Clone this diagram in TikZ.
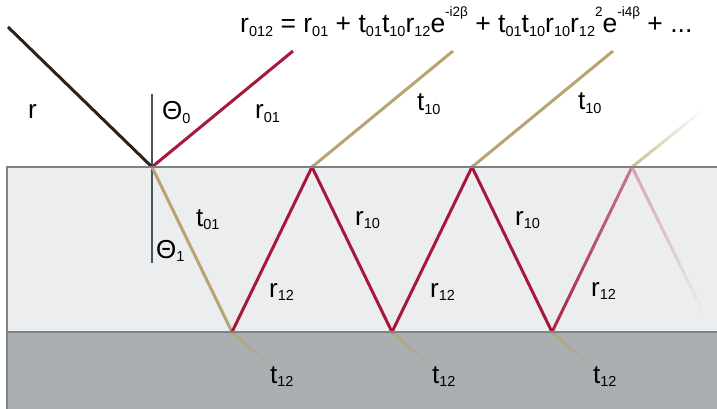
\documentclass[tikz,border=0pt]{standalone}
\usepackage{fontspec}
\setmainfont{Liberation Sans}
\usetikzlibrary{calc}
\definecolor{crim}{HTML}{A6193A}
\definecolor{tanc}{HTML}{B8A46E}
\definecolor{darkray}{HTML}{2E2118}
\definecolor{normc}{HTML}{4C5259}
\definecolor{bordc}{HTML}{7E8286}
\definecolor{filmc}{HTML}{ECEDEF}
\definecolor{subc}{HTML}{ABAFB2}
\newcommand\sbs[1]{\raisebox{-3.5pt}{\fontsize{14.5}{15}\selectfont #1}}
\newcommand\sps[1]{\raisebox{16.5pt}{\fontsize{13.5}{14}\selectfont #1}}
% gradient line: #1 start, #2 end, #3 colour, #4 background, #5 start %, #6 end %
\newcommand\gradline[6]{%
  \foreach \i in {0,...,19}{%
    \pgfmathsetmacro\pa{\i/20}%
    \pgfmathsetmacro\pb{(\i+1)/20}%
    \pgfmathtruncatemacro\pc{#5+(#6-#5)*(\i+0.5)/20}%
    \draw[ray, line join=miter, color=#3!\pc!#4] ($(#1)!\pa!(#2)$) -- ($(#1)!\pb!(#2)$);
  }}
\begin{document}
\begin{tikzpicture}[x=1pt,y=-1pt,
  ray/.style={line width=3pt, line join=round},
  bord/.style={draw=bordc, line width=2.5pt},
  lbl/.style={anchor=base west, inner sep=0pt, font=\fontsize{26}{30}\selectfont}]
\useasboundingbox (0,0) rectangle (717,409);
% layers
\fill[filmc] (7,167) rectangle (717,332);
\fill[subc] (7,332) rectangle (717,409);
% points
\coordinate (src) at (8,27);
\coordinate (p0) at (152,167);
\coordinate (b1) at (232,332);
\coordinate (p1) at (312,167);
\coordinate (b2) at (392,332);
\coordinate (p2) at (472,167);
\coordinate (b3) at (552,332);
\coordinate (p3) at (632,167);
\coordinate (e5) at (707,320);
\coordinate (r01end) at (293,51);
\coordinate (t10a) at (453,51);
\coordinate (t10b) at (613,51);
\coordinate (t10c) at (703,110);
\coordinate (t12a) at (270,366);
\coordinate (t12b) at (430,366);
\coordinate (t12c) at (590,366);
\coordinate (nTop) at (152,94);
\coordinate (nBot) at (152,263);
% normal
\draw[normc, line width=2pt] (nTop) -- (nBot);
% faded rays
\gradline{b1}{t12a}{tanc}{subc}{100}{0}
\gradline{b2}{t12b}{tanc}{subc}{100}{0}
\gradline{b3}{t12c}{tanc}{subc}{100}{0}
\gradline{p3}{t10c}{tanc}{white}{75}{0}
\gradline{b3}{p3}{crim}{filmc}{95}{55}
\gradline{p3}{e5}{crim}{filmc}{35}{0}
% rays
\draw[ray, darkray] (src) -- (p0);
\draw[ray, crim] (p0) -- (r01end);
\draw[ray, tanc] (p0) -- (b1);
\draw[ray, tanc] (p1) -- (t10a);
\draw[ray, tanc] (p2) -- (t10b);
\draw[ray, crim] (b1) -- (p1) -- (b2) -- (p2) -- (b3);
% borders
\draw[bord] (717,167) -- (7,167) -- (7,409);
\draw[bord] (7,332) -- (717,332);
% labels
\node[lbl] (lr) at (28,119) {r};
\node[lbl] (lth0) at (162,120) {Θ\sbs{0}};
\node[lbl] (lr01) at (255,119) {r\sbs{01}};
\node[lbl] (lt01) at (196,226) {t\sbs{01}};
\node[lbl] (lth1) at (156,258) {Θ\sbs{1}};
\node[lbl] (lr12a) at (269,297) {r\sbs{12}};
\node[lbl] (lr12b) at (430,297) {r\sbs{12}};
\node[lbl] (lr12c) at (591,296) {r\sbs{12}};
\node[lbl] (lr10a) at (355,225) {r\sbs{10}};
\node[lbl] (lr10b) at (515,225) {r\sbs{10}};
\node[lbl] (lt10a) at (417,111) {t\sbs{10}};
\node[lbl] (lt10b) at (578,110) {t\sbs{10}};
\node[lbl] (lt12a) at (270,383) {t\sbs{12}};
\node[lbl] (lt12b) at (432,383) {t\sbs{12}};
\node[lbl] (lt12c) at (593,383) {t\sbs{12}};
\node[lbl, font=\fontsize{26.5}{30}\selectfont] (formula) at (240,33) {r\sbs{012} = r\sbs{01} + t\sbs{01}t\sbs{10}r\sbs{12}e\sps{-i2β} + t\sbs{01}t\sbs{10}r\sbs{10}r\sbs{12}\sps{2}e\sps{-i4β} + ...};
\end{tikzpicture}
\end{document}
